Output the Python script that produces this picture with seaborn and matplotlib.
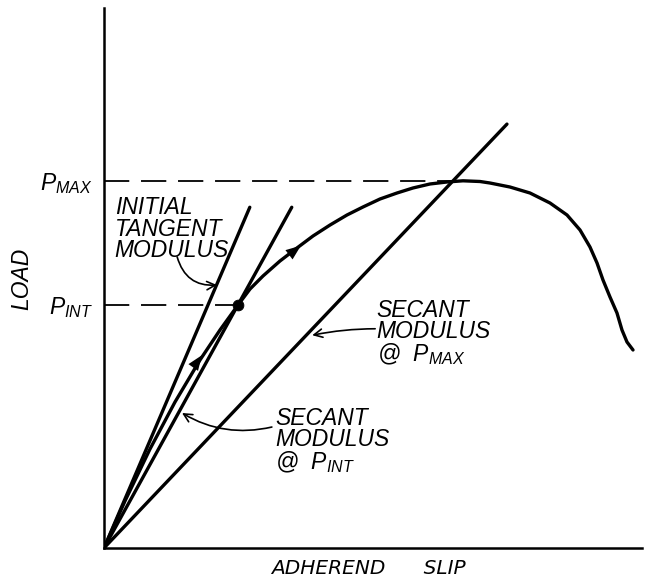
import numpy as np
import pandas as pd
import matplotlib
matplotlib.use("Agg")
import matplotlib.pyplot as plt
import seaborn as sns

# ---- data (arbitrary units) ----
slip = [0.000, 0.390, 0.855, 1.320, 1.784, 2.156, 2.491, 2.714, 2.955, 3.271,
        3.587, 3.885, 4.201, 4.517, 4.814, 5.130, 5.446, 5.743, 6.059, 6.375,
        6.673, 6.989, 7.175, 7.546, 7.918, 8.290, 8.606, 8.848, 9.033, 9.164,
        9.275, 9.405, 9.535, 9.628, 9.721, 9.833]
load = [0.000, 0.870, 1.833, 2.704, 3.481, 4.037, 4.500, 4.796, 5.037, 5.315,
        5.556, 5.778, 5.981, 6.167, 6.315, 6.463, 6.574, 6.667, 6.741, 6.778,
        6.800, 6.787, 6.759, 6.685, 6.574, 6.389, 6.167, 5.889, 5.574, 5.278,
        4.963, 4.648, 4.352, 4.037, 3.815, 3.667]

P_MAX = 6.80
P_INT = 4.50
slip_at_int = 2.491
slip_at_max = 6.56

# modulus lines: from origin to their drawn end points
mod_names = ["initial tangent", "secant @ P_INT", "secant @ P_MAX"]
mod_end_slip = [2.71, 3.49, 7.49]
mod_end_load = [6.31, 6.31, 7.85]

ytick_vals = [P_INT, P_MAX]
ytick_labels = [r"$P_{INT}$", r"$P_{MAX}$"]

# ---- style ----
sns.set_theme(style="white")
plt.rcParams["font.family"] = ["Liberation Sans", "DejaVu Sans"]
plt.rcParams["font.style"] = "italic"
plt.rcParams["text.color"] = "black"
plt.rcParams["ytick.color"] = "black"
plt.rcParams["mathtext.fontset"] = "custom"
plt.rcParams["mathtext.it"] = "Liberation Sans:italic"
plt.rcParams["mathtext.rm"] = "Liberation Sans:italic"
plt.rcParams["mathtext.bf"] = "Liberation Sans:italic:bold"

FS = 16.5
LW = 2.4

fig = plt.figure(figsize=(6.47, 5.79), dpi=100)
ax = fig.add_axes([104 / 647, 31 / 579, 538 / 647, 540 / 579])

# dashed reference levels
dash = (0, (14, 6.5))
ax.plot([0, slip_at_max], [P_MAX, P_MAX], color="black", lw=1.3, linestyle=dash)
ax.plot([0, slip_at_int], [P_INT, P_INT], color="black", lw=1.3, linestyle=dash)

# modulus lines
for name, xs, ys in zip(mod_names, mod_end_slip, mod_end_load):
    dfl = pd.DataFrame({"slip": [0.0, xs], "load": [0.0, ys]})
    sns.lineplot(data=dfl, x="slip", y="load", color="black", lw=LW, ax=ax,
                 sort=False, estimator=None)

# load-slip curve
df = pd.DataFrame({"slip": slip, "load": load})
sns.lineplot(data=df, x="slip", y="load", sort=False, estimator=None,
             color="black", lw=LW, ax=ax)
ax.lines[-1].set_solid_joinstyle("round")
ax.lines[-1].set_solid_capstyle("round")

# point at P_INT
sns.scatterplot(x=[slip_at_int], y=[P_INT], color="black", s=60, ax=ax,
                zorder=5, edgecolor="black")

# arrowheads along the curve
for (x0, y0), (x1, y1) in [((1.60, 3.26), (1.82, 3.57)),
                           ((3.36, 5.37), (3.66, 5.60))]:
    ax.annotate("", xy=(x1, y1), xytext=(x0, y0),
                arrowprops=dict(arrowstyle="-|>,head_length=0.9,head_width=0.35",
                                color="black", lw=0.01, shrinkA=0, shrinkB=0))

# labels with curved pointers
ax.text(0.20, 6.51, "INITIAL\nTANGENT\nMODULUS", fontsize=FS, ha="left", va="top",
        linespacing=0.9)
ax.annotate("", xy=(2.10, 4.87), xytext=(1.36, 5.39),
            arrowprops=dict(arrowstyle="->,head_length=0.5,head_width=0.25",
                            color="black", lw=1.2, shrinkA=0, shrinkB=0,
                            connectionstyle="arc3,rad=0.4"))

ax.text(5.07, 4.61, "SECANT\nMODULUS\n@  $P_{MAX}$", fontsize=FS, ha="left", va="top",
        linespacing=0.9)
ax.annotate("", xy=(3.87, 3.94), xytext=(5.04, 4.06),
            arrowprops=dict(arrowstyle="->,head_length=0.5,head_width=0.25",
                            color="black", lw=1.2, shrinkA=0, shrinkB=0,
                            connectionstyle="arc3,rad=0.05"))

ax.text(3.18, 2.62, "SECANT\nMODULUS\n@  $P_{INT}$", fontsize=FS, ha="left", va="top",
        linespacing=0.9)
ax.annotate("", xy=(1.45, 2.50), xytext=(3.12, 2.24),
            arrowprops=dict(arrowstyle="->,head_length=0.5,head_width=0.25",
                            color="black", lw=1.2, shrinkA=0, shrinkB=0,
                            connectionstyle="arc3,rad=-0.2"))

# axes
ax.set_xlim(0, 10)
ax.set_ylim(0, 10)
ax.set_xticks([])
ax.set_yticks(ytick_vals)
ax.set_yticklabels(ytick_labels, fontsize=FS)
ax.tick_params(axis="y", length=0, pad=8)
ax.set_xlabel("")
ax.set_ylabel("")
for s in ["top", "right"]:
    ax.spines[s].set_visible(False)
for s in ["left", "bottom"]:
    ax.spines[s].set_color("black")
    ax.spines[s].set_linewidth(1.8)

fig.text(22 / 647, 1 - 279 / 579, "LOAD", rotation=90, fontsize=FS,
         ha="center", va="center")
fig.text(368 / 647, 1 - 574 / 579, "ADHEREND      SLIP", fontsize=14.5,
         family=["DejaVu Sans"], style="oblique", ha="center", va="baseline")

fig.savefig("out.png", dpi=100)
